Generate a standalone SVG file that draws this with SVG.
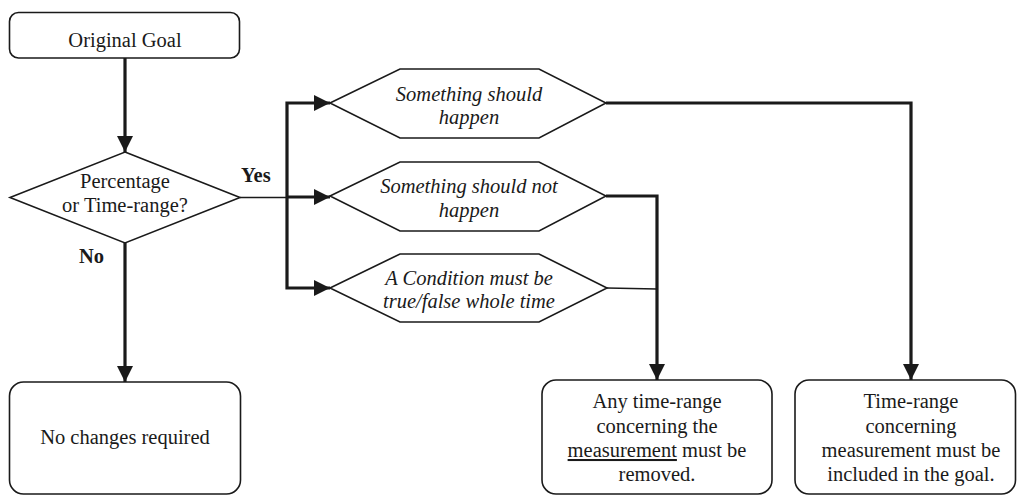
<svg xmlns="http://www.w3.org/2000/svg" width="1017" height="496" viewBox="0 0 1017 496">
<defs>
<style>
.shape{fill:#fff;stroke:#1a1a1a;stroke-width:1.6}
.t{font-family:"Liberation Serif","Times New Roman",serif;font-size:20.5px;fill:#1a1a1a;text-anchor:middle}
.i{font-style:italic}
.b{font-weight:bold;text-anchor:start}
.thick{fill:none;stroke:#1a1a1a;stroke-width:3.2}
.thin{fill:none;stroke:#1a1a1a;stroke-width:1.4}
</style>
<marker id="ah" markerUnits="userSpaceOnUse" markerWidth="17" markerHeight="16" refX="16" refY="8" orient="auto">
<path d="M0,0 L16,8 L0,16 z" fill="#1a1a1a"/>
</marker>
</defs>
<rect width="1017" height="496" fill="#fff"/>
<g id="connectors">
<path class="thick" d="M125,58 V152" marker-end="url(#ah)"/>
<path class="thick" d="M125,243 V382" marker-end="url(#ah)"/>
<path class="thin" d="M240,197.5 H287"/>
<path class="thick" d="M287,197 H330" marker-end="url(#ah)"/>
<path class="thick" d="M287,197 V103 H330" marker-end="url(#ah)"/>
<path class="thick" d="M287,197 V288 H330" marker-end="url(#ah)"/>
<path class="thick" d="M606,103 H911 V380" marker-end="url(#ah)"/>
<path class="thick" d="M606,196 H657 V380" marker-end="url(#ah)"/>
<path class="thin" d="M607,288 L657,289"/>
<text class="t b" x="241" y="182">Yes</text>
<text class="t b" x="79" y="263">No</text>
</g>
<g id="original-goal">
<rect class="shape" x="9.5" y="12.5" width="230" height="45.5" rx="9"/>
<text class="t" x="125" y="47">Original Goal</text>
</g>
<g id="decision">
<polygon class="shape" points="125,152 240,197.5 125,243 10,197.5"/>
<text class="t" x="125" y="188">Percentage</text>
<text class="t" x="125" y="212">or Time-range?</text>
</g>
<g id="hex-happen">
<polygon class="shape" points="330,103 400,69 539,69 606,103 539,138 400,138"/>
<text class="t i" x="469" y="101">Something should</text>
<text class="t i" x="469" y="124">happen</text>
</g>
<g id="hex-not-happen">
<polygon class="shape" points="330,196 400,162 539,162 606,196 539,231 400,231"/>
<text class="t i" x="469" y="193">Something should not</text>
<text class="t i" x="469" y="217">happen</text>
</g>
<g id="hex-condition">
<polygon class="shape" points="330,288 400,254 539,254 607,288 539,322 400,322"/>
<text class="t i" x="469" y="285">A Condition must be</text>
<text class="t i" x="469" y="308">true/false whole time</text>
</g>
<g id="no-changes">
<rect class="shape" x="9.5" y="382" width="231" height="112" rx="14"/>
<text class="t" x="125" y="444">No changes required</text>
</g>
<g id="remove-range">
<rect class="shape" x="542" y="380" width="230" height="114" rx="14"/>
<text class="t" x="657" y="408">Any time-range</text>
<text class="t" x="657" y="433">concerning the</text>
<text class="t" x="657" y="457"><tspan text-decoration="underline">measurement</tspan> must be</text>
<text class="t" x="657" y="481">removed.</text>
</g>
<g id="include-range">
<rect class="shape" x="795" y="380" width="220.5" height="114" rx="14"/>
<text class="t" x="911" y="408">Time-range</text>
<text class="t" x="911" y="433">concerning</text>
<text class="t" x="911" y="457">measurement must be</text>
<text class="t" x="911" y="481">included in the goal.</text>
</g>
</svg>
